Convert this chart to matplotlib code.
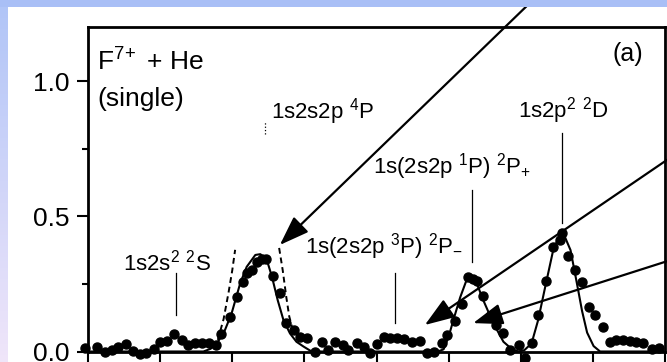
import numpy as np
import matplotlib
matplotlib.use('Agg')
import matplotlib.pyplot as plt
from matplotlib.patches import Rectangle

plt.rcParams['font.family'] = ['Liberation Sans Narrow', 'Liberation Sans', 'DejaVu Sans']
plt.rcParams['mathtext.default'] = 'regular'

# measured points (arbitrary energy units, 1 per major tick)
x_dots = [-0.04, 0.13, 0.24, 0.33, 0.42, 0.53, 0.63, 0.72, 0.81, 0.91,
          1.00, 1.09, 1.19, 1.30, 1.39, 1.48, 1.58, 1.68, 1.78, 1.85,
          1.97, 2.07, 2.15, 2.20, 2.28, 2.35, 2.41, 2.47, 2.56, 2.66,
          2.75, 2.85, 2.94, 3.04, 3.15, 3.24, 3.33, 3.43, 3.54, 3.61,
          3.73, 3.82, 3.91, 4.00, 4.11, 4.19, 4.28, 4.38, 4.49, 4.60,
          4.70, 4.80, 4.91, 4.98, 5.09, 5.18, 5.27, 5.34, 5.40, 5.48,
          5.57, 5.66, 5.75, 5.85, 5.97, 6.06, 6.15, 6.24, 6.35, 6.45,
          6.54, 6.57, 6.65, 6.75, 6.85, 6.94, 7.03, 7.14, 7.24, 7.32,
          7.42, 7.51, 7.60, 7.70, 7.82, 7.92]
y_dots = [0.012, 0.018, -0.002, 0.006, 0.018, 0.028, 0.003, -0.009, -0.004, 0.008,
          0.036, 0.040, 0.065, 0.043, 0.024, 0.030, 0.033, 0.030, 0.024, 0.065,
          0.129, 0.203, 0.258, 0.291, 0.301, 0.332, 0.341, 0.341, 0.279, 0.215,
          0.104, 0.079, 0.055, 0.049, -0.001, 0.036, 0.006, 0.036, 0.024, 0.006,
          0.030, 0.016, -0.007, 0.028, 0.055, 0.049, 0.049, 0.045, 0.036, 0.040,
          -0.004, -0.001, 0.030, 0.061, 0.114, 0.176, 0.274, 0.267, 0.262, 0.205,
          0.131, 0.098, 0.067, 0.006, 0.024, -0.025, 0.033, 0.135, 0.262, 0.387,
          0.412, 0.437, 0.353, 0.301, 0.258, 0.166, 0.135, 0.089, 0.036, 0.043,
          0.043, 0.040, 0.036, 0.030, 0.008, 0.012]

# fit curve (solid)
x_fit = [0.0, 1.6, 1.7, 1.8, 1.9, 1.99, 2.11, 2.2, 2.32, 2.39, 2.48, 2.55, 2.63,
         2.71, 2.8, 2.89, 2.99, 3.1, 4.85, 4.93, 5.0, 5.08, 5.16, 5.24, 5.29,
         5.39, 5.48, 5.58, 5.67, 5.76, 5.88, 5.97, 6.05, 6.15, 6.24, 6.34, 6.45,
         6.57, 6.69, 6.78, 6.85, 6.92, 7.01, 7.1, 8.0]
y_fit = [0.0, 0.0, 0.01, 0.035, 0.08, 0.14, 0.252, 0.313, 0.357, 0.36, 0.338, 0.277,
         0.19, 0.116, 0.067, 0.036, 0.018, 0.0, 0.0, 0.008, 0.055, 0.129, 0.2, 0.258,
         0.274, 0.252, 0.19, 0.129, 0.08, 0.036, 0.008, 0.0, 0.005, 0.03, 0.115,
         0.24, 0.375, 0.45, 0.375, 0.25, 0.15, 0.07, 0.02, 0.0, 0.0]

# dashed profile, two flanks
x_dash_l = [1.80, 1.88, 1.95, 2.00, 2.04]
y_dash_l = [0.043, 0.12, 0.22, 0.30, 0.376]
x_dash_r = [2.65, 2.70, 2.75, 2.79, 2.83]
y_dash_r = [0.383, 0.30, 0.20, 0.13, 0.09]

# state labels: text, x, y, marker line x, y0, y1
labels = ['1s2s$^{2}$ $^{2}S$', '1s2s2p $^{4}P$', '1s(2s2p $^{3}$P) $^{2}P_{-}$',
          '1s(2s2p $^{1}$P) $^{2}P_{+}$', '1s2p$^{2}$ $^{2}D$']
label_x = [0.485, 2.54, 3.01, 3.95, 5.96]
label_y = [0.301, 0.863, 0.364, 0.66, 0.867]
mark_x = [1.22, 2.45, 4.26, 5.32, 6.57]
mark_y0 = [0.135, 0.804, 0.105, 0.331, 0.475]
mark_y1 = [0.29, 0.848, 0.29, 0.597, 0.808]

# arrows (tail -> head)
arrow_tail = [(6.17, 1.30), (8.03, 0.709), (8.03, 0.334)]
arrow_head = [(2.66, 0.394), (4.67, 0.098), (5.34, 0.105)]

W, H = 667, 362
fig = plt.figure(figsize=(W/100, H/100), dpi=100)
fig.patch.set_facecolor('white')

# slide background strips
bg = fig.add_axes([0, 0, 8/W, 1])
grad = np.linspace(0, 1, 100).reshape(-1, 1)
top_c = np.array([0.69, 0.77, 0.97])
bot_c = np.array([0.94, 0.90, 0.98])
img = top_c[None, None, :]*(1-grad[:, :, None]) + bot_c[None, None, :]*grad[:, :, None]
bg.imshow(img, aspect='auto', extent=[0, 1, 0, 1], origin='upper')
bg.axis('off')
fig.patches.append(Rectangle((0, 1-7/H), 1, 7/H, transform=fig.transFigure,
                             facecolor='#a9bff6', edgecolor='none', zorder=0))

ax = fig.add_axes([88/W, (H-351.5)/H, (665-88)/W, (351.5-27)/H])
ax.plot(x_fit, y_fit, color='black', lw=1.5, zorder=3)
ax.plot(x_dash_l, y_dash_l, color='black', lw=1.4, ls=(0, (3, 2)), zorder=3)
ax.plot(x_dash_r, y_dash_r, color='black', lw=1.4, ls=(0, (3, 2)), zorder=3)
ax.plot(x_dots, y_dots, 'o', color='black', ms=6.5, clip_on=False, zorder=4)

for i in range(len(labels)):
    ax.text(label_x[i], label_y[i], labels[i], fontsize=16, va='baseline', ha='left')
    if i == 1:
        ax.plot([mark_x[i], mark_x[i]], [mark_y0[i], mark_y1[i]], color='black', lw=0.9, ls=':')
    else:
        ax.plot([mark_x[i], mark_x[i]], [mark_y0[i], mark_y1[i]], color='black', lw=0.9)

ax.text(0.125, 1.04, r'$F^{7\!+}$ + He', fontsize=19, va='baseline')
ax.text(0.125, 0.908, '(single)', fontsize=19, va='baseline')
ax.text(7.70, 1.075, '(a)', fontsize=18, va='baseline', ha='right')

for t, h in zip(arrow_tail, arrow_head):
    ax.annotate('', xy=h, xytext=t, annotation_clip=False,
                arrowprops=dict(arrowstyle='-|>,head_length=1.4,head_width=0.5',
                                mutation_scale=13, color='black', lw=1.6,
                                shrinkA=0, shrinkB=0))

ax.set_xlim(0, 8)
ax.set_ylim(0, 1.2)
ax.set_xticks(np.arange(0, 9, 1))
ax.set_xticklabels([])
ax.set_yticks([0, 0.5, 1.0])
ax.set_yticklabels(['0.0', '0.5', '1.0'])
ax.set_yticks([0.25, 0.75], minor=True)
ax.tick_params(axis='y', which='major', direction='out', length=8, width=1.5, labelsize=19, pad=5)
ax.tick_params(axis='y', which='minor', direction='out', length=4.5, width=1.5)
ax.tick_params(axis='x', which='major', direction='out', length=10, width=1.5)
for s in ax.spines.values():
    s.set_linewidth(2)

fig.savefig('out.png', dpi=100, facecolor='white')
